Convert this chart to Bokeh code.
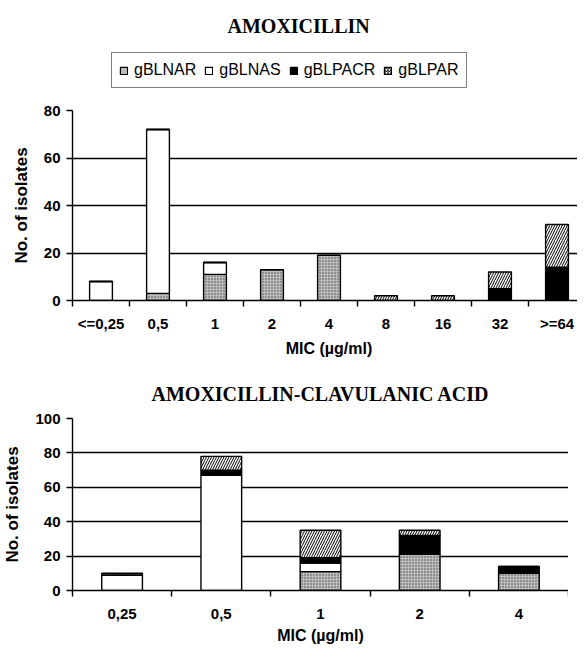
from bokeh.plotting import figure
from bokeh.models import Range1d, FixedTicker, Legend, LegendItem, Title, Label
from bokeh.layouts import column
from bokeh.embed import file_html
from bokeh.resources import INLINE

# ---------------- data ----------------
series = ["gBLNAR", "gBLNAS", "gBLPACR", "gBLPAR"]

amx_cats = ["<=0,25", "0,5", "1", "2", "4", "8", "16", "32", ">=64"]
amx_nar = [0, 3, 11, 13, 19, 0, 0, 0, 0]
amx_nas = [8, 69, 5, 0, 0, 0, 0, 0, 0]
amx_pacr = [0, 0, 0, 0, 0, 0, 0, 5, 14]
amx_par = [0, 0, 0, 0, 0, 2, 2, 7, 18]

amc_cats = ["0,25", "0,5", "1", "2", "4"]
amc_nar = [0, 0, 11, 21, 10]
amc_nas = [9, 67, 5, 0, 0]
amc_pacr = [0, 3, 3, 11, 4]
amc_par = [1, 8, 16, 3, 0]

amx_yticks = [0, 20, 40, 60, 80]
amc_yticks = [0, 20, 40, 60, 80, 100]

# ---------------- styles ----------------
FILL = ["#bdbdbd", "white", "black", "white"]
HATCH = ["dot", " ", " ", "right_diagonal_line"]
HATCH_COLOR = ["#444444", "black", "black", "black"]
HATCH_SCALE = [3, 12, 12, 5]
SANS = "Liberation Sans"
SERIF = "Liberation Serif"


def style_title(t, size="20px", font=SERIF):
    t.text_font = font
    t.text_font_style = "bold"
    t.text_font_size = size
    t.text_color = "black"
    t.align = "center"


def build(cats, nar, nas, pacr, par, yticks, fw, fh, bl, bt, bb,
          bar_w, title=None, title_standoff=10, lab_standoff=9,
          xt_standoff=3):
    n = len(cats)
    xs = list(range(1, n + 1))
    p = figure(frame_width=fw, frame_height=fh, output_backend="svg",
               toolbar_location=None, x_range=Range1d(0.5, n + 0.5),
               y_range=Range1d(yticks[0], yticks[-1]),
               min_border_left=bl, min_border_right=0,
               min_border_top=bt, min_border_bottom=bb)
    p.outline_line_color = None
    p.background_fill_color = "white"
    p.border_fill_color = "white"

    data = dict(x=xs, gBLNAR=nar, gBLNAS=nas, gBLPACR=pacr, gBLPAR=par)
    p.vbar_stack(series, x="x", width=bar_w, source=data,
                 fill_color=FILL, line_color="black", line_width=1.4,
                 hatch_pattern=HATCH, hatch_color=HATCH_COLOR,
                 hatch_scale=HATCH_SCALE, hatch_weight=1)

    # x axis: labels at centres, ticks at category boundaries
    xa = p.xaxis[0]
    xa.ticker = FixedTicker(ticks=xs, minor_ticks=[i + 0.5 for i in range(0, n + 1)])
    xa.major_label_overrides = {x: c for x, c in zip(xs, cats)}
    xa.major_tick_out = 0
    xa.major_tick_in = 0
    xa.minor_tick_out = 6
    xa.minor_tick_in = 0
    xa.minor_tick_line_color = "black"
    xa.minor_tick_line_width = 1.4
    xa.axis_line_color = "black"
    xa.axis_line_width = 1.4
    xa.major_label_standoff = lab_standoff

    ya = p.yaxis[0]
    ya.ticker = FixedTicker(ticks=yticks)
    ya.major_tick_out = 6
    ya.major_tick_in = 0
    ya.minor_tick_out = 0
    ya.minor_tick_in = 0
    ya.major_tick_line_color = "black"
    ya.major_tick_line_width = 1.4
    ya.axis_line_color = "black"
    ya.axis_line_width = 1.4
    ya.major_label_standoff = 6
    ya.axis_label = "No. of isolates"
    ya.axis_label_standoff = 10

    for ax in (xa, ya):
        ax.major_label_text_font = SANS
        ax.major_label_text_font_style = "bold"
        ax.major_label_text_font_size = "15px"
        ax.major_label_text_color = "black"
        ax.axis_label_text_font = SANS
        ax.axis_label_text_font_style = "bold"
        ax.axis_label_text_font_size = "17px"
        ax.axis_label_text_color = "black"

    xt = Title(text="MIC (µg/ml)", offset=-24, standoff=xt_standoff)
    style_title(xt, "16px", SANS)
    p.add_layout(xt, "below")

    p.xgrid.visible = False
    p.ygrid.ticker = FixedTicker(ticks=yticks[1:])
    p.ygrid.grid_line_color = "black"
    p.ygrid.grid_line_width = 1.4

    if title:
        p.title.text = title
        style_title(p.title)
        p.title.standoff = title_standoff
    return p


# ---- header: title + legend ----
head = figure(frame_width=575, frame_height=100, output_backend="svg",
              toolbar_location=None, x_range=Range1d(0, 1), y_range=Range1d(0, 1),
              x_axis_type=None, y_axis_type=None,
              min_border_left=0, min_border_right=0, min_border_top=0,
              min_border_bottom=0)
head.outline_line_color = None
head.xgrid.visible = False
head.ygrid.visible = False
head.title.visible = False
head.add_layout(Label(x=155, y=75, x_units="screen", y_units="screen",
                      text="AMOXICILLIN", text_align="left",
                      text_baseline="middle",
                      text_font=SERIF, text_font_style="bold",
                      text_font_size="20px", text_color="black"))
dummy = []
for i, s in enumerate(series):
    # off-range swatch renderers used only for the legend keys
    r = head.vbar(x=[5], top=[1], width=0.1, fill_color=FILL[i], line_color="black",
                  line_width=1.2, hatch_pattern=HATCH[i], hatch_color=HATCH_COLOR[i],
                  hatch_scale=HATCH_SCALE[i] - 2, hatch_weight=1)
    dummy.append(r)
leg = Legend(items=[LegendItem(label=s, renderers=[r]) for s, r in zip(series, dummy)],
             orientation="horizontal", location=(111, 12),
             label_text_font=SANS, label_text_font_size="16px",
             label_text_color="black", glyph_width=9, glyph_height=9,
             label_standoff=6, spacing=8, padding=7, margin=0,
             label_height=20, border_line_color="black", border_line_width=1.5,
             background_fill_alpha=1.0)
head.add_layout(leg, "center")

p1 = build(amx_cats, amx_nar, amx_nas, amx_pacr, amx_par, amx_yticks,
           513, 190, 62, 10, 60, 0.4, lab_standoff=8, xt_standoff=7)
p2 = build(amc_cats, amc_nar, amc_nas, amc_pacr, amc_par, amc_yticks,
           496, 172, 71, 58, 0, 0.41, title="AMOXICILLIN-CLAVULANIC ACID",
           title_standoff=27, lab_standoff=12, xt_standoff=6)

layout = column(head, p1, p2, spacing=0)
open("out.html", "w").write(file_html(layout, INLINE))
